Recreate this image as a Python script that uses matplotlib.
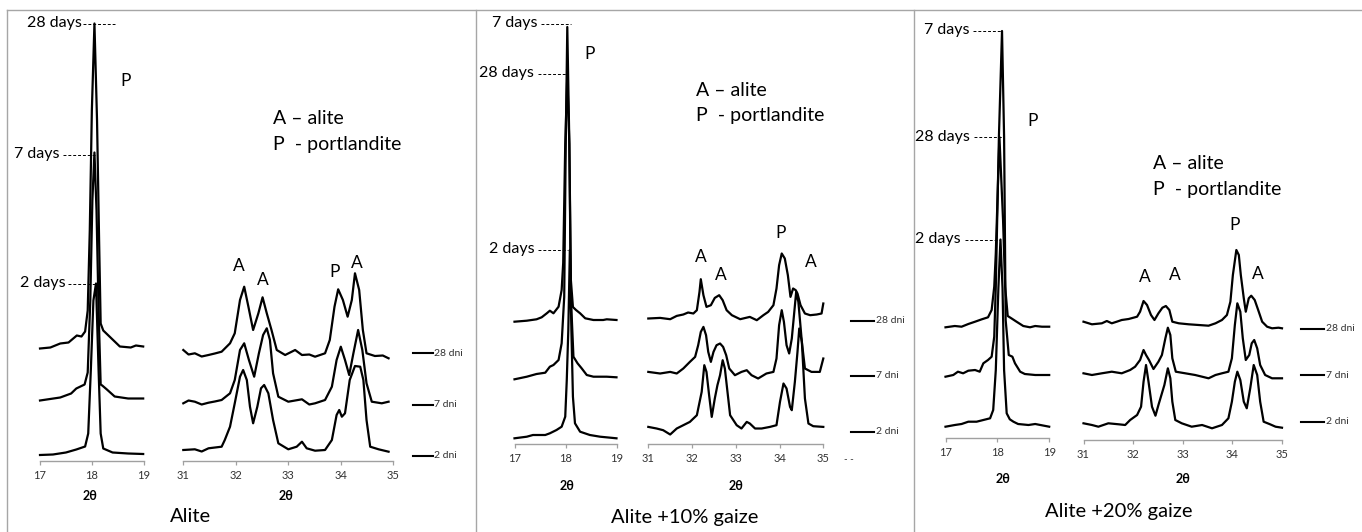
#!/usr/bin/env python3
"""Stacked XRD patterns of hydrated alite (with and without gaize) at 2, 7 and 28 days."""
import matplotlib
matplotlib.use("Agg")
import matplotlib.pyplot as plt
from matplotlib.lines import Line2D

plt.rcParams['font.family'] = ['Lato', 'DejaVu Sans']

W, H = 1362, 532

# ---- data: (2theta, intensity a.u., stacked offsets included) ----
AGES = ['28 dni', '7 dni', '2 dni']
PEAK_AGES_ALITE = ['28 days', '7 days', '2 days']
PEAK_AGES_G10 = ['7 days', '28 days', '2 days']
PEAK_AGES_G20 = ['7 days', '28 days', '2 days']
TICKS_LOW = [17, 18, 19]
TICKS_HIGH = [31, 32, 33, 34, 35]

# Alite, 17-19 deg
ALITE_LOW_28D = [(17.00, 112), (17.20, 113), (17.39, 117), (17.55, 118), (17.71, 125), (17.80, 124),
                 (17.87, 129), (17.92, 150), (17.96, 230), (18.00, 350), (18.05, 437), (18.10, 340),
                 (18.14, 220), (18.17, 137), (18.22, 130), (18.30, 126), (18.38, 122), (18.54, 114),
                 (18.75, 113), (18.85, 115), (18.99, 114)]
ALITE_LOW_7D = [(17.00, 60), (17.39, 63), (17.60, 67), (17.70, 72), (17.86, 76), (17.92, 88),
                (17.97, 160), (18.01, 260), (18.05, 308), (18.09, 250), (18.13, 150), (18.17, 76),
                (18.20, 75), (18.29, 71), (18.44, 64), (18.70, 62), (18.99, 62)]
ALITE_LOW_2D = [(17.00, 5.5), (17.25, 6), (17.50, 8), (17.70, 11), (17.87, 14), (17.93, 27),
                (17.98, 90), (18.03, 160), (18.08, 177), (18.13, 90), (18.17, 27), (18.22, 12),
                (18.40, 8), (18.70, 7), (18.99, 6.5)]

# Alite, 31-35 deg
ALITE_HIGH_28D = [(31.00, 110.5), (31.10, 106), (31.22, 107.2), (31.35, 104), (31.48, 105.5), (31.60, 107),
                  (31.73, 108.8), (31.89, 117.2), (31.98, 127.2), (32.08, 160.5), (32.16, 173.8),
                  (32.24, 153.8), (32.33, 130.5), (32.43, 147.2), (32.51, 163.2), (32.59, 147.2),
                  (32.68, 130.5), (32.78, 110.5), (32.94, 105.5), (33.13, 110.5), (33.26, 105.5),
                  (33.40, 106), (33.51, 103.8), (33.70, 107.2), (33.79, 120.5), (33.88, 153.8),
                  (33.95, 171.2), (34.04, 160.5), (34.13, 143.8), (34.21, 160.5), (34.27, 187.2),
                  (34.35, 170.5), (34.42, 130.5), (34.49, 107.2), (34.65, 104.5), (34.80, 105),
                  (34.91, 102.2)]
ALITE_HIGH_7D = [(31.00, 57.2), (31.10, 60), (31.22, 58.8), (31.35, 56), (31.48, 57.8), (31.60, 59),
                 (31.73, 60.5), (31.89, 67.2), (31.98, 80.5), (32.08, 110.5), (32.16, 117.2),
                 (32.25, 100.5), (32.35, 83.8), (32.44, 107.2), (32.52, 125.5), (32.59, 132.2),
                 (32.65, 120.5), (32.71, 87.2), (32.81, 63.8), (33.00, 58.8), (33.26, 61.2),
                 (33.40, 56), (33.51, 57.2), (33.70, 60.5), (33.83, 73.8), (33.92, 100.5),
                 (34.00, 113.8), (34.08, 100.5), (34.16, 85.5), (34.24, 107.2), (34.33, 130.5),
                 (34.41, 110.5), (34.49, 77.2), (34.59, 58.8), (34.78, 57.2), (34.91, 58.8)]
ALITE_HIGH_2D = [(31.00, 10.5), (31.22, 11.2), (31.35, 9), (31.48, 12.2), (31.73, 13.8), (31.79, 20.5),
                 (31.89, 33.8), (31.98, 57.2), (32.08, 83.8), (32.14, 90.5), (32.21, 80.5),
                 (32.27, 53.8), (32.33, 37.2), (32.41, 53.8), (32.48, 72.2), (32.54, 75.5),
                 (32.62, 67.2), (32.71, 40.5), (32.81, 17.2), (33.00, 11.2), (33.16, 13.8),
                 (33.26, 18.8), (33.35, 12.2), (33.51, 9.8), (33.70, 10.5), (33.83, 20.5),
                 (33.92, 45.5), (33.97, 50.5), (34.02, 43.8), (34.08, 47.2), (34.17, 80.5),
                 (34.27, 94.5), (34.37, 93.8), (34.43, 80.5), (34.49, 40.5), (34.56, 13.8),
                 (34.72, 11.2), (34.91, 8.8)]

# Alite + 10% gaize, 17-19 deg
G10_LOW_28D = [(17.00, 122.3), (17.24, 123.3), (17.43, 124.7), (17.53, 126.7), (17.63, 130.7),
               (17.69, 133.3), (17.76, 130.7), (17.86, 137.3), (17.92, 154), (17.95, 181),
               (17.99, 300), (18.03, 369), (18.07, 300), (18.10, 164), (18.14, 137), (18.20, 134),
               (18.28, 130.7), (18.38, 125.7), (18.54, 124), (18.73, 124), (18.80, 124.7), (18.99, 124)]
G10_LOW_7D = [(17.00, 64.7), (17.24, 67.3), (17.43, 70), (17.60, 71.3), (17.69, 77.3), (17.76, 79),
              (17.86, 84), (17.92, 100.7), (17.97, 147), (18.00, 300), (18.03, 417), (18.07, 300),
              (18.10, 147), (18.15, 87.3), (18.23, 80.7), (18.31, 75.7), (18.41, 69), (18.54, 67.3),
              (18.80, 67.3), (18.99, 66.7)]
G10_LOW_2D = [(17.00, 5.7), (17.24, 7.3), (17.36, 9), (17.60, 9), (17.69, 10.7), (17.82, 14),
              (17.92, 17.3), (17.99, 27.3), (18.02, 64), (18.05, 114), (18.08, 194), (18.11, 114),
              (18.14, 47.3), (18.18, 20.7), (18.28, 12.3), (18.47, 9), (18.67, 7.3), (18.99, 5.7)]

# Alite + 10% gaize, 31-35 deg
G10_HIGH_28D = [(31.00, 125.5), (31.27, 126.1), (31.50, 124.8), (31.65, 128.1), (31.80, 129.5),
                (31.91, 131.5), (32.03, 130.5), (32.11, 133.8), (32.17, 152.1), (32.20, 164.8),
                (32.26, 148.8), (32.33, 137.1), (32.43, 138.8), (32.52, 146.1), (32.62, 148.8),
                (32.70, 143.8), (32.79, 133.8), (32.91, 128.8), (33.10, 124.8), (33.32, 127.1),
                (33.48, 123.8), (33.63, 128.8), (33.74, 132.1), (33.86, 138.8), (33.93, 155.5),
                (33.99, 178.8), (34.05, 190.5), (34.12, 185.5), (34.19, 168.8), (34.25, 147.1),
                (34.31, 155.5), (34.37, 153.8), (34.41, 150.5), (34.48, 138.8), (34.58, 130.5),
                (34.70, 128.8), (34.85, 129.5), (34.96, 130.5), (35.00, 140.5)]
G10_HIGH_7D = [(31.00, 72.1), (31.27, 70.5), (31.50, 72.1), (31.65, 70.5), (31.80, 75.5), (31.95, 82.1),
               (32.07, 87.1), (32.14, 98.8), (32.20, 112.1), (32.26, 117.1), (32.32, 108.8),
               (32.37, 92.1), (32.43, 82.1), (32.49, 92.1), (32.56, 98.8), (32.64, 100.5),
               (32.71, 97.1), (32.78, 88.8), (32.85, 75.5), (32.98, 68.8), (33.13, 72.1),
               (33.25, 73.8), (33.36, 68.8), (33.51, 65.5), (33.70, 70.5), (33.86, 72.1),
               (33.93, 85.5), (33.99, 118.8), (34.05, 133.8), (34.10, 122.1), (34.16, 98.8),
               (34.22, 90.5), (34.28, 105.5), (34.33, 128.8), (34.38, 152.1), (34.43, 142.1),
               (34.51, 102.1), (34.58, 75.5), (34.73, 72.1), (34.92, 72.1), (35.00, 85.5)]
G10_HIGH_2D = [(31.00, 17.1), (31.19, 15.5), (31.34, 13.8), (31.50, 9.5), (31.65, 15.5), (31.80, 18.8),
               (31.95, 22.1), (32.11, 28.8), (32.22, 52.1), (32.28, 78.8), (32.33, 72.1),
               (32.39, 48.8), (32.45, 27.1), (32.52, 45.5), (32.58, 58.8), (32.64, 68.8),
               (32.70, 83.8), (32.75, 75.5), (32.81, 52.1), (32.87, 28.8), (33.02, 18.8),
               (33.13, 15.5), (33.25, 22.1), (33.32, 20.5), (33.44, 15.5), (33.59, 15.5),
               (33.78, 17.1), (33.93, 18.8), (34.01, 42.1), (34.09, 60.5), (34.16, 55.5),
               (34.24, 37.1), (34.28, 33.8), (34.35, 62.1), (34.41, 92.1), (34.45, 115.5),
               (34.51, 102.1), (34.58, 45.5), (34.66, 20.5), (34.77, 17.8), (35.00, 17.1)]

# Alite + 20% gaize, 17-19 deg
G20_LOW_28D = [(17.00, 110.7), (17.18, 112), (17.31, 111.3), (17.44, 114), (17.57, 116.3), (17.70, 118.7),
               (17.82, 120.7), (17.89, 128), (17.94, 151.3), (17.97, 184.7), (18.04, 301), (18.11, 218),
               (18.15, 151.3), (18.20, 122), (18.27, 119.7), (18.37, 116.3), (18.50, 112), (18.63, 110.7),
               (18.73, 112), (18.86, 111.3), (19.00, 111.3)]
G20_LOW_7D = [(17.00, 61.3), (17.15, 63), (17.24, 66.3), (17.34, 64.7), (17.44, 67.3), (17.57, 68),
              (17.66, 66.3), (17.73, 74.7), (17.82, 78), (17.89, 81.3), (17.94, 101.3), (17.97, 151.3),
              (18.03, 301), (18.09, 407), (18.13, 301), (18.16, 118), (18.22, 83), (18.29, 81.3),
              (18.34, 74.7), (18.44, 66.3), (18.53, 64), (18.73, 63), (19.00, 63)]
G20_LOW_2D = [(17.00, 11.3), (17.18, 13), (17.31, 14), (17.44, 16.3), (17.60, 16.3), (17.73, 18),
              (17.86, 19.7), (17.92, 28), (17.97, 68), (18.02, 150), (18.06, 198.5), (18.10, 150),
              (18.13, 68), (18.18, 24.7), (18.24, 18.7), (18.31, 16.3), (18.40, 14), (18.60, 13),
              (18.73, 14), (19.00, 11.3)]

# Alite + 20% gaize, 31-35 deg
G20_HIGH_28D = [(31.00, 118.3), (31.17, 115.7), (31.37, 116.7), (31.47, 119), (31.57, 116.7), (31.67, 118.3),
                (31.77, 120), (31.91, 121), (32.08, 123.3), (32.14, 128.3), (32.21, 139), (32.28, 135),
                (32.36, 125), (32.43, 120), (32.51, 126.7), (32.59, 132.3), (32.66, 134), (32.73, 130),
                (32.79, 118.3), (32.92, 116.7), (33.12, 115.7), (33.32, 115), (33.52, 114.3),
                (33.66, 116.7), (33.79, 120), (33.89, 125), (33.96, 138.3), (34.01, 165), (34.08, 190),
                (34.13, 185), (34.17, 165), (34.23, 141.7), (34.27, 128.3), (34.33, 141.7),
                (34.38, 144.3), (34.45, 140), (34.52, 130), (34.60, 118.3), (34.70, 113.3),
                (34.80, 111.7), (34.93, 112.3), (35.00, 111.7)]
G20_HIGH_7D = [(31.00, 66.7), (31.17, 65), (31.37, 66.7), (31.57, 68.3), (31.77, 66.7), (31.94, 70),
               (32.04, 73.3), (32.14, 80), (32.21, 90), (32.26, 85), (32.32, 80), (32.41, 71),
               (32.51, 78.3), (32.58, 85), (32.65, 101.7), (32.70, 112.3), (32.75, 105), (32.79, 81.7),
               (32.86, 68.3), (33.05, 66.7), (33.25, 65), (33.39, 63.3), (33.52, 61.7), (33.66, 65),
               (33.79, 66.7), (33.92, 68.3), (33.99, 81.7), (34.05, 115), (34.10, 136.7), (34.16, 128.3),
               (34.21, 101.7), (34.27, 80), (34.34, 85), (34.39, 96.7), (34.44, 100), (34.50, 91.7),
               (34.56, 75), (34.66, 65), (34.80, 61.7), (35.00, 61.7)]
G20_HIGH_2D = [(31.00, 16.7), (31.17, 15), (31.30, 13.3), (31.50, 16.7), (31.71, 15.7), (31.84, 15),
               (31.94, 20), (32.08, 25), (32.16, 33.3), (32.21, 58.3), (32.26, 75), (32.31, 58.3),
               (32.38, 33.3), (32.45, 24.3), (32.51, 35), (32.57, 45), (32.63, 55), (32.70, 71.7),
               (32.75, 61.7), (32.79, 38.3), (32.85, 20), (32.98, 16.7), (33.18, 13.3), (33.39, 15),
               (33.59, 11.7), (33.79, 15), (33.92, 21.7), (33.99, 38.3), (34.05, 58.3), (34.10, 68.3),
               (34.16, 60), (34.23, 38.3), (34.29, 31.7), (34.36, 51.7), (34.43, 75), (34.50, 65),
               (34.56, 38.3), (34.63, 18.3), (34.76, 15.7), (34.87, 13.3), (35.00, 12.3)]

# ---- layout (figure pixels, origin top-left) ----
PANELS = [
    dict(title='Alite', title_xy=(191, 517),
         low=[ALITE_LOW_28D, ALITE_LOW_7D, ALITE_LOW_2D],
         high=[ALITE_HIGH_28D, ALITE_HIGH_7D, ALITE_HIGH_2D],
         low_box=(40, 143.7, 460.5), high_box=(183.3, 393.3, 460.5),
         theta_y=496, theta_x=(90, 285.7),
         days=PEAK_AGES_ALITE,
         day_marks=[(82, 83, 115, 24), (60, 63, 95, 154.5), (66, 68, 97, 284)],
         p_big=(126, 81), key_xy=(273, 118, 145),
         peaks=[('A', 238.7, 266), ('A', 263.3, 280), ('P', 335, 272), ('A', 356.7, 262.5)],
         legend=(413, 433, [353, 404.5, 455.7])),
    dict(title='Alite +10% gaize', title_xy=(685, 517.5),
         low=[G10_LOW_28D, G10_LOW_7D, G10_LOW_2D],
         high=[G10_HIGH_28D, G10_HIGH_7D, G10_HIGH_2D],
         low_box=(514.5, 617, 444), high_box=(648.3, 823.3, 444),
         theta_y=486.5, theta_x=(566.7, 736),
         days=PEAK_AGES_G10,
         day_marks=[(537.7, 541, 571, 24), (534, 538, 566, 74), (534.3, 538, 568, 250)],
         p_big=(590, 54.3), key_xy=(695.7, 90, 116),
         peaks=[('A', 700.7, 257), ('A', 720.7, 275), ('P', 780.7, 233), ('A', 811, 262)],
         legend=(851, 874, [320.7, 375.6, 431.6])),
    dict(title='Alite +20% gaize', title_xy=(1119, 511),
         low=[G20_LOW_28D, G20_LOW_7D, G20_LOW_2D],
         high=[G20_HIGH_28D, G20_HIGH_7D, G20_HIGH_2D],
         low_box=(945.5, 1049.2, 438), high_box=(1083.5, 1282, 440),
         theta_y=479, theta_x=(1002.7, 1183.3),
         days=PEAK_AGES_G20,
         day_marks=[(969, 973, 1002, 30.5), (970, 974, 1003, 137), (961, 965, 1000, 240)],
         p_big=(1032.7, 121), key_xy=(1153.3, 163, 189.3),
         peaks=[('A', 1145, 276.6), ('A', 1175.3, 275.5), ('P', 1234.3, 224.6), ('A', 1258.3, 274.2)],
         legend=(1300.7, 1324, [328.5, 375, 421.8])),
]

AXIS_GREY = '#a0a0a0'
BORDER_GREY = '#a6a6a6'


def fx(x):
    return x / W


def fy(y):
    return 1 - y / H


def txt(fig, x, y, s, size, ha='center', weight='normal', color='black'):
    fig.text(fx(x), fy(y), s, fontsize=size, ha=ha, va='center', fontweight=weight, color=color)


def hline(fig, x0, x1, y, **kw):
    fig.add_artist(Line2D([fx(x0), fx(x1)], [fy(y), fy(y)], transform=fig.transFigure, **kw))


def xrd_axes(fig, box, xlim, ticks):
    x0, x1, ybase = box
    ax = fig.add_axes([fx(x0), fy(ybase), (x1 - x0) / W, (ybase - 12) / H])
    ax.set_xlim(*xlim)
    ax.set_ylim(0, ybase - 12)
    for s in ('top', 'right', 'left'):
        ax.spines[s].set_visible(False)
    ax.spines['bottom'].set_color(AXIS_GREY)
    ax.spines['bottom'].set_linewidth(1.0)
    ax.set_yticks([])
    ax.set_xticks(ticks)
    ax.set_xticklabels([str(t) for t in ticks])
    ax.tick_params(axis='x', direction='out', length=3, width=0.9, color=AXIS_GREY,
                   labelsize=8, labelcolor='#333333', pad=3.5)
    ax.patch.set_visible(False)
    return ax


def draw_curves(ax, curves):
    for pts in curves:
        xs = [p[0] for p in pts]
        ys = [p[1] for p in pts]
        ax.plot(xs, ys, color='black', lw=1.6, solid_joinstyle='round', clip_on=False)


fig = plt.figure(figsize=(W / 100, H / 100), dpi=100)

# panel frames
hline(fig, 7, W, 10, color=BORDER_GREY, lw=1.0)
for bx in (7, 476, 914):
    fig.add_artist(Line2D([fx(bx), fx(bx)], [fy(10), 0], transform=fig.transFigure,
                          color=BORDER_GREY, lw=1.0))

for p in PANELS:
    lo = xrd_axes(fig, p['low_box'], (17, 19), TICKS_LOW)
    hi = xrd_axes(fig, p['high_box'], (31, 35), TICKS_HIGH)
    draw_curves(lo, p['low'])
    draw_curves(hi, p['high'])

    txt(fig, p['theta_x'][0], p['theta_y'], '2θ', 9, weight='bold')
    txt(fig, p['theta_x'][1], p['theta_y'], '2θ', 9, weight='bold')
    txt(fig, *p['title_xy'], p['title'], 14.5)

    for label, (tx, lx0, lx1, ly) in zip(p['days'], p['day_marks']):
        txt(fig, tx, ly - 0.5, label, 11.5, ha='right')
        hline(fig, lx0, lx1, ly, color='black', lw=0.7, linestyle=(0, (3, 2)))

    txt(fig, *p['p_big'], 'P', 12.5)
    kx, ky1, ky2 = p['key_xy']
    txt(fig, kx, ky1, 'A – alite', 14, ha='left')
    txt(fig, kx, ky2, 'P  - portlandite', 14, ha='left')
    for s, x, y in p['peaks']:
        txt(fig, x, y, s, 12.5)

    lx0, lx1, lys = p['legend']
    for age, ly in zip(AGES, lys):
        hline(fig, lx0, lx1, ly, color='black', lw=1.5)
        txt(fig, lx1 + 1.5, ly, age, 7.5, ha='left', color='#333333')

txt(fig, 849, 460, '- -', 7, color='#333333')

fig.savefig('out.png', dpi=100)
